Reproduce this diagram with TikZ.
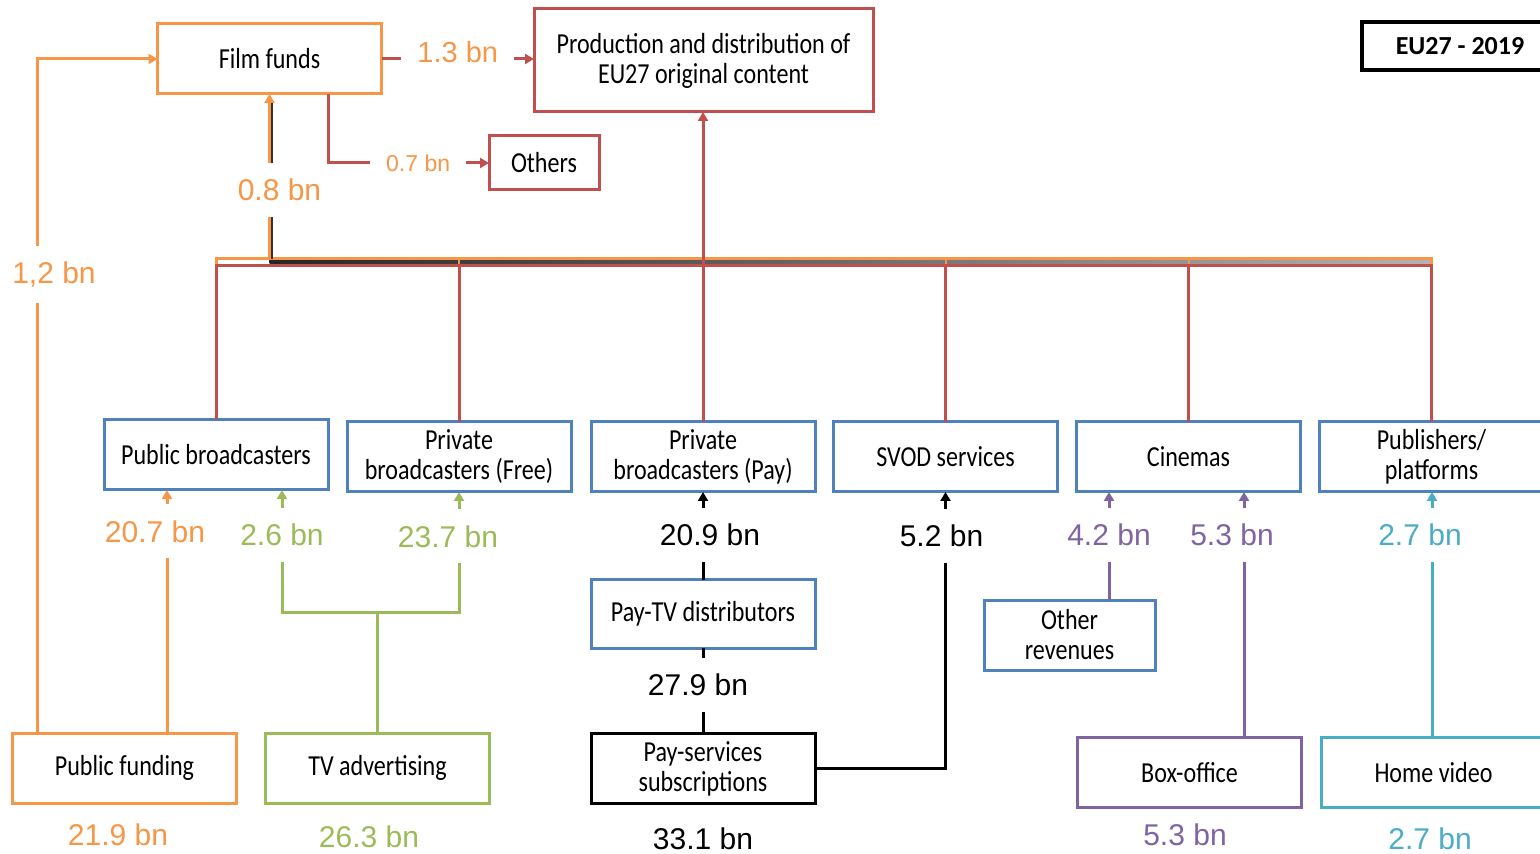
\documentclass[tikz,border=0pt]{standalone}
\usepackage{fontspec}
\setmainfont{Carlito}[FakeStretch=0.83]
\newfontfamily\valfamily{Liberation Sans}
\newfontfamily\titlefamily{Carlito}
\usetikzlibrary{arrows.meta}
\definecolor{forange}{HTML}{F79646}
\definecolor{fred}{HTML}{C0504D}
\definecolor{fblue}{HTML}{4F81BD}
\definecolor{fgreen}{HTML}{9BBB59}
\definecolor{fpurple}{HTML}{8064A2}
\definecolor{fteal}{HTML}{4BACC6}
\newcommand{\boxtext}{\fontsize{14.5}{15}\selectfont}
\newcommand{\valtext}{\valfamily\fontsize{15}{18}\selectfont}
\newcommand{\smallvaltext}{\valfamily\fontsize{11.5}{14}\selectfont}
\begin{document}
\begin{tikzpicture}[x=0.5pt,y=-0.5pt,inner sep=0pt,outer sep=0pt,line width=1.5pt,
>={Triangle[length=4.5pt,width=5pt]},
flowbox/.style={draw,rectangle,fill=white,minimum width=112pt,minimum height=35pt,align=center,font=\boxtext},
amount/.style={fill=white,inner xsep=8pt,inner ysep=8pt,font=\valtext}]
\useasboundingbox (0,0) rectangle (1540,854);
\clip (0,0) rectangle (1540,854);
\draw (269.5,59) node[flowbox,draw=forange] (film) {Film funds};
\draw (703.5,60.5) node[flowbox,draw=fred,minimum width=169.5pt,minimum height=51.5pt] (prod) {Production and distribution of\\EU27 original content};
\draw (544,163) node[flowbox,draw=fred,minimum width=55pt,minimum height=27pt] (others) {Others};
\draw (1460,46) node[flowbox,draw=black,line width=2pt,minimum width=98pt,minimum height=24pt,font=\titlefamily\bfseries\fontsize{13}{15}\selectfont] (eu) {EU27 - 2019};
\draw (216,455) node[flowbox,draw=fblue] (pubbc) {Public broadcasters};
\draw (459,457) node[flowbox,draw=fblue] (privfree) {Private\\broadcasters (Free)};
\draw (703,457) node[flowbox,draw=fblue] (privpay) {Private\\broadcasters (Pay)};
\draw (945.5,457) node[flowbox,draw=fblue] (svod) {SVOD services};
\draw (1188.5,457) node[flowbox,draw=fblue] (cine) {Cinemas};
\draw (1431.5,457) node[flowbox,draw=fblue] (publ) {Publishers/\\platforms};
\draw (703,614) node[flowbox,draw=fblue,minimum height=34pt] (paytv) {Pay-TV distributors};
\draw (1069.5,635) node[flowbox,draw=fblue,minimum width=85.5pt] (othrev) {Other\\revenues};
\draw (124.5,768) node[flowbox,draw=forange] (pubfund) {Public funding};
\draw (377.5,768) node[flowbox,draw=fgreen] (tvad) {TV advertising};
\draw (703,768.5) node[flowbox,draw=black] (paysub) {Pay-services\\subscriptions};
\draw (1189.5,772.5) node[flowbox,draw=fpurple] (boxoff) {Box-office};
\draw (1433.5,772.5) node[flowbox,draw=fteal] (homevid) {Home video};
\coordinate (busO) at (0,259);
\coordinate (busR) at (0,266);
\coordinate (r612) at (0,612);
\coordinate (c37) at (37,0);
\coordinate (c167) at (167,0);
\coordinate (c282) at (282,0);
\coordinate (c328) at (328,0);
\coordinate (c1109) at (1109,0);
\coordinate (c1244) at (1244,0);
\coordinate (c1432) at (1432,0);
% bus to film funds and to production
\shade[left color=black!85,right color=black!30] (269.5,260) rectangle (1432,264);
\draw[forange] (pubbc.north |- busR) -- (pubbc.north |- busO) -- (publ.north |- busO) -- (publ.north |- busR);
\foreach \n in {privfree,privpay,svod,cine} \draw[forange,line width=1pt] (\n.north |- busO) -- ++(0,5);
\draw[fred] (pubbc.north) -- (pubbc.north |- busR) -- (publ.north |- busR) -- (publ.north);
\foreach \n in {privfree,privpay,svod,cine} \draw[fred] (\n.north) -- (\n.north |- busR);
\draw[fred,->] (privpay.north |- busR) -- (prod.south -| privpay.north);
\draw[black!80] ([xshift=1.2pt]film.south |- busO) -- ([xshift=1.2pt,yshift=-4pt]film.south);
\draw[forange,->] (film.south |- busO) -- node[amount,text=forange,pos=.42,xshift=5pt]{0.8 bn} (film.south);
% film funds
\draw[forange,->] (pubfund.north -| c37) |- node[amount,text=forange,pos=.34,xshift=8.5pt]{1,2 bn} (film.west);
\draw[fred,->] (film.east) -- node[amount,text=forange,pos=.5,yshift=3.5pt,font=\valfamily\fontsize{14.5}{17}\selectfont]{1.3 bn} (prod.west |- film.east);
\draw[fred,->] (film.south -| c328) |- node[amount,text=forange,pos=.78,font=\smallvaltext]{0.7 bn} (others.west);
% revenues
\draw[forange,->] (pubfund.north -| c167) -- node[amount,text=forange,pos=.83,xshift=-6pt]{20.7 bn} (pubbc.south -| c167);
\draw[fgreen] (tvad.north) -- (tvad.north |- r612) coordinate (tvjoin);
\draw[fgreen,->] (tvjoin) -| node[amount,text=fgreen,pos=.815]{2.6 bn} (pubbc.south -| c282);
\draw[fgreen,->] (tvjoin) -| node[amount,text=fgreen,pos=.815,xshift=-5.5pt]{23.7 bn} (privfree.south);
\draw[black] (paysub.north) -- node[amount,pos=.57,xshift=-2.5pt]{27.9 bn} (paytv.south);
\draw[black,->] (paytv.north) -- node[amount,pos=.51,xshift=3.5pt]{20.9 bn} (privpay.south);
\draw[black,->] (paysub.east) -| node[amount,pos=.92,xshift=-2pt]{5.2 bn} (svod.south);
\draw[fpurple,->] (othrev.north -| c1109) -- node[amount,text=fpurple,pos=.6]{4.2 bn} (cine.south -| c1109);
\draw[fpurple,->] (boxoff.north -| c1244) -- node[amount,text=fpurple,pos=.825,xshift=-6pt]{5.3 bn} (cine.south -| c1244);
\draw[fteal,->] (homevid.north -| c1432) -- node[amount,text=fteal,pos=.825,xshift=-6pt]{2.7 bn} (publ.south -| c1432);
% totals
\draw (118,835) node[font=\valtext,text=forange] (tpubfund) {21.9 bn};
\draw (369,837) node[font=\valtext,text=fgreen] (ttvad) {26.3 bn};
\draw (703,839) node[font=\valtext] (tpaysub) {33.1 bn};
\draw (1185,835) node[font=\valtext,text=fpurple] (tboxoff) {5.3 bn};
\draw (1430,839) node[font=\valtext,text=fteal] (thomevid) {2.7 bn};
\end{tikzpicture}
\end{document}
